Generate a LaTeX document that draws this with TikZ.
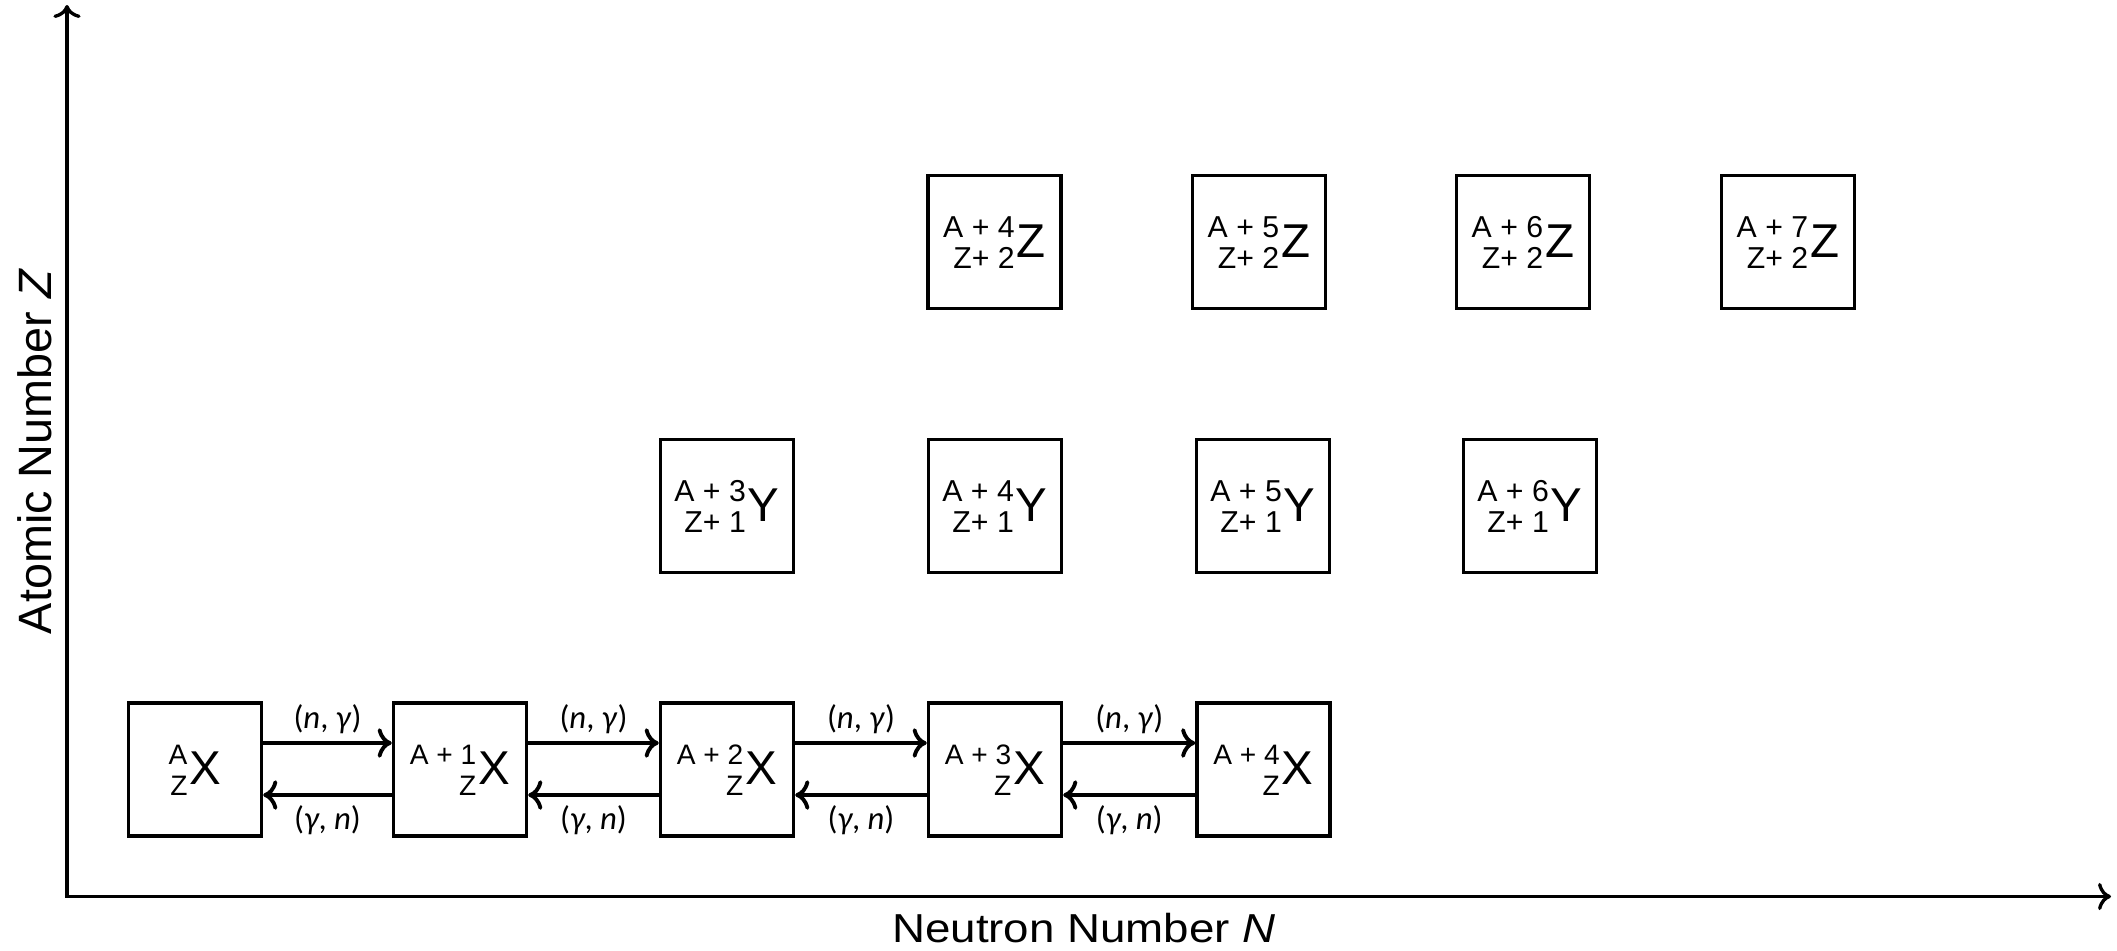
\documentclass[tikz,border=0pt]{standalone}
\usepackage{fontspec}
\setmainfont{Liberation Sans}
\newfontfamily\lblfont{Carlito}
\usepackage{graphicx}
\usetikzlibrary{arrows.meta}
% #1 script size, #2 upper script, #3 lower script, #4 symbol size, #5 symbol
\newcommand{\nuc}[5]{%
  {\fontsize{#1}{8.8pt}\selectfont\raisebox{-3pt}{\begin{tabular}[b]{@{}r@{}}#2\\#3\end{tabular}}}%
  \hspace{0.6pt}{\fontsize{#4}{#4}\selectfont #5}}
\begin{document}
\begin{tikzpicture}[x=0.01cm,y=-0.01cm,
  nbox/.style={draw, line width=0.95pt, minimum size=1.33cm, inner sep=0pt,
               text height=8.8pt, text depth=0pt},
  rx/.style={->, line width=1.1pt},
  rlab/.style={font=\lblfont\fontsize{9.3}{10}\selectfont, inner sep=0pt},
  axis/.style={<->, line width=0.95pt}]
\useasboundingbox (0,0) rectangle (2117,951);

% axes
\coordinate (O) at (67,896.5);
\coordinate (ytop) at (67,5);
\coordinate (xend) at (2111,896.5);
\draw[axis] (ytop) -- (O) -- (xend);
\node[anchor=base, font=\fontsize{11.5}{13}\selectfont, inner sep=0pt] (xlab) at (1084,942)
  {\scalebox{1.13}[1]{Neutron Number \textit{N}}};
\node[anchor=base, rotate=90, font=\fontsize{13.3}{15}\selectfont, inner sep=0pt] (ylab) at (51.7,451.5)
  {Atomic Number \textit{Z}};

% X row
\node[nbox] (x0) at (195,769.5) {\nuc{8}{A}{Z}{13.5}{X}};
\node[nbox] (x1) at (460,769.5) {\nuc{8}{A + 1}{Z}{13.5}{X}};
\node[nbox] (x2) at (727,769.5) {\nuc{8}{A + 2}{Z}{13.5}{X}};
\node[nbox] (x3) at (995,769.5) {\nuc{8}{A + 3}{Z}{13.5}{X}};
\node[nbox] (x4) at (1263.5,769.5) {\nuc{8}{A + 4}{Z}{13.5}{X}};

% Y row
\node[nbox] (y3) at (727,506) {\nuc{8.6}{A + 3}{Z+ 1}{13.5}{Y}};
\node[nbox] (y4) at (995,506) {\nuc{8.6}{A + 4}{Z+ 1}{13.5}{Y}};
\node[nbox] (y5) at (1263,506) {\nuc{8.6}{A + 5}{Z+ 1}{13.5}{Y}};
\node[nbox] (y6) at (1530,506) {\nuc{8.6}{A + 6}{Z+ 1}{13.5}{Y}};

% Z row
\node[nbox] (z4) at (994.5,242) {\nuc{8.6}{A + 4}{Z+ 2}{13.5}{Z}};
\node[nbox] (z5) at (1259,242) {\nuc{8.6}{A + 5}{Z+ 2}{13.5}{Z}};
\node[nbox] (z6) at (1523,242) {\nuc{8.6}{A + 6}{Z+ 2}{13.5}{Z}};
\node[nbox] (z7) at (1788,242) {\nuc{8.6}{A + 7}{Z+ 2}{13.5}{Z}};

% reactions
\foreach \a/\b in {x0/x1,x1/x2,x2/x3,x3/x4} {
  \draw[rx] ([yshift=0.265cm]\a.east) --
    node[rlab, yshift=0.235cm] (ng\a) {(\textit{n}, \textit{γ})} ([yshift=0.265cm]\b.west);
  \draw[rx] ([yshift=-0.255cm]\b.west) --
    node[rlab, yshift=-0.255cm] (gn\a) {(\textit{γ}, \textit{n})} ([yshift=-0.255cm]\a.east);
}
\end{tikzpicture}
\end{document}
